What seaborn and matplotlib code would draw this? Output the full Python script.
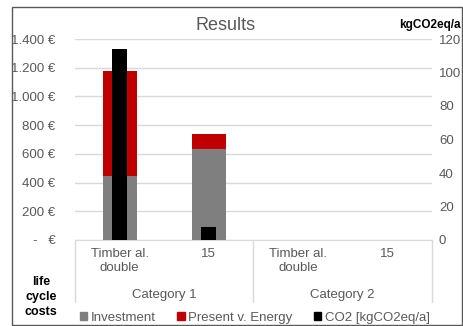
import numpy as np
import pandas as pd
import matplotlib
matplotlib.use("Agg")
import matplotlib.pyplot as plt
import seaborn as sns
from matplotlib.patches import Patch, Rectangle
from matplotlib.ticker import FuncFormatter

sns.set_style("white")
plt.rcParams['font.family'] = ['Liberation Sans', 'DejaVu Sans']

# Data
slots = ['c1_a', 'c1_b', 'c2_a', 'c2_b']
tick_labels = ['Timber al.\ndouble', '15', 'Timber al.\ndouble', '15']
groups = ['Category 1', 'Category 2']
investment = [445, 632, np.nan, np.nan]
energy = [730, 105, np.nan, np.nan]
co2 = [114, 7.5, np.nan, np.nan]

df = pd.DataFrame({'slot': slots, 'investment': investment, 'energy': energy, 'co2': co2})
df['total'] = df['investment'] + df['energy']

GREY = '#7f7f7f'
RED = '#c00000'
TXT = '#595959'
FS = 9.5

W, H = 464, 326
fig = plt.figure(figsize=(W / 100, H / 100), dpi=100)
ax = fig.add_axes([75 / W, (H - 240) / H, (432 - 75) / W, (240 - 39) / H])

sns.barplot(data=df, x='slot', y='total', order=slots, color=RED, width=0.38,
            saturation=1, linewidth=0, ax=ax, zorder=2)
sns.barplot(data=df, x='slot', y='investment', order=slots, color=GREY, width=0.38,
            saturation=1, linewidth=0, ax=ax, zorder=3)
ax.set_ylim(0, 1400)
ax.set_yticks(np.arange(0, 1401, 200))
ax.yaxis.set_major_formatter(FuncFormatter(
    lambda v, p: '-   €' if v == 0 else f'{int(v):,} €'.replace(',', '.')))
ax.grid(axis='y', color='#d9d9d9', lw=1, zorder=0)
ax.set_axisbelow(True)
for s in ['top', 'right', 'left']:
    ax.spines[s].set_visible(False)
ax.spines['bottom'].set_color('#d9d9d9')
ax.set_xlabel('')
ax.set_ylabel('')
ax.set_xticks(range(len(slots)))
ax.set_xticklabels(tick_labels, fontsize=FS, color=TXT)
ax.tick_params(axis='x', length=0, pad=6)
ax.tick_params(axis='y', length=0, pad=14, labelsize=FS, labelcolor=TXT)

ax2 = ax.twinx()
sns.barplot(data=df, x='slot', y='co2', order=slots, color='black', width=0.17,
            saturation=1, linewidth=0, ax=ax2, zorder=4)
ax2.set_ylim(0, 120)
ax2.set_yticks(np.arange(0, 121, 20))
ax2.set_ylabel('')
for s in ax2.spines.values():
    s.set_visible(False)
ax2.tick_params(axis='y', length=0, pad=5, labelsize=FS, labelcolor=TXT)
ax.set_xlim(-0.5, 3.5)

# category separators and group labels
trans = ax.get_xaxis_transform()
for x in [-0.5, 1.5, 3.5]:
    ax.plot([x, x], [0, -0.31], color='#d9d9d9', lw=1, transform=trans, clip_on=False)
for i, g in enumerate(groups):
    ax.text(2 * i + 0.5, -0.275, g, transform=trans, ha='center', va='center',
            fontsize=FS, color=TXT)

fig.text(226 / W, 1 - 26 / H, 'Results', ha='center', va='center', fontsize=13, color=TXT)
fig.text(430 / W, 1 - 25 / H, 'kgCO2eq/a', ha='center', va='center', fontsize=8.5,
         fontweight='bold', color='black')
fig.text(41 / W, 1 - 297 / H, 'life\ncycle\ncosts', ha='center', va='center', fontsize=9,
         fontweight='bold', color='black', linespacing=1.3)

handles = [Patch(color=GREY, label='Investment'),
           Patch(color=RED, label='Present v. Energy'),
           Patch(color='black', label='CO2 [kgCO2eq/a]')]
leg = fig.legend(handles=handles, loc='center', bbox_to_anchor=(255 / W, 1 - 318 / H),
                 ncol=3, frameon=False, fontsize=FS, handlelength=0.55, handleheight=0.55,
                 handletextpad=0.3, columnspacing=1.6)
for t in leg.get_texts():
    t.set_color(TXT)

fig.patches.append(Rectangle((12 / W, 1 / H), 450 / W, 1 - 7 / H - 1 / H,
                             transform=fig.transFigure, fill=False, edgecolor='#595959', lw=1))

fig.savefig('out.png', dpi=100)
